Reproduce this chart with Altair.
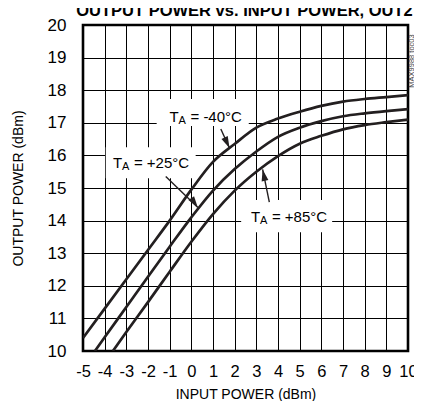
import altair as alt
import pandas as pd

# ---------------- data ----------------
x_top = [-5, -4, -3, -2, -1, 0, 1, 2, 3, 4, 5, 6, 7, 8, 9, 10]
y_top = [10.4, 11.3, 12.2, 13.1, 14.0, 14.95, 15.8, 16.35, 16.85, 17.13, 17.34, 17.52, 17.65, 17.73, 17.79, 17.85]
x_mid = [-4.45, -4, -3, -2, -1, 0, 1, 2, 3, 4, 5, 6, 7, 8, 9, 10]
y_mid = [10.0, 10.42, 11.35, 12.28, 13.2, 14.1, 14.92, 15.58, 16.12, 16.57, 16.85, 17.05, 17.2, 17.29, 17.36, 17.42]
x_bot = [-3.62, -3, -2, -1, 0, 1, 2, 3, 4, 5, 6, 7, 8, 9, 10]
y_bot = [10.0, 10.58, 11.5, 12.43, 13.35, 14.2, 14.92, 15.5, 15.98, 16.36, 16.6, 16.8, 16.93, 17.02, 17.1]
series = ["-40°C", "+25°C", "+85°C"]

x_ticks = list(range(-5, 11))
y_ticks = list(range(10, 21))

# annotation labels (data coordinates)
label_text = ["= -40°C", "= +25°C", "= +85°C"]
label_x = [-1.01, -3.62, 2.75]
label_y = [17.19, 15.76, 14.11]
box_x = [-1.6, -3.95, 2.3]
box_x2 = [2.65, 0.2, 6.5]
box_y = [16.9, 15.3, 13.64]
box_y2 = [17.73, 16.25, 14.63]
arrow_x = [1.36, -1.18, 3.6]
arrow_y = [16.81, 15.35, 14.57]
arrow_x2 = [1.76, 0.30, 3.29]
arrow_y2 = [16.23, 14.40, 15.57]
arrow_angle = [155, 145, 348]

TITLE = "OUTPUT POWER vs. INPUT POWER, OUT2"
XTITLE = "INPUT POWER (dBm)"
YTITLE = "OUTPUT POWER (dBm)"
NOTE = "MAX9988 toc03"

# ---------------- tables ----------------
curves = pd.concat([
    pd.DataFrame({"x": x_top, "y": y_top, "s": series[0]}),
    pd.DataFrame({"x": x_mid, "y": y_mid, "s": series[1]}),
    pd.DataFrame({"x": x_bot, "y": y_bot, "s": series[2]}),
], ignore_index=True)
labels = pd.DataFrame({"x": label_x, "y": label_y, "t": "T", "a": "A", "rest": label_text})
boxes = pd.DataFrame({"x": box_x, "x2": box_x2, "y": box_y, "y2": box_y2})
arrows = pd.DataFrame({"x": arrow_x, "y": arrow_y, "x2": arrow_x2, "y2": arrow_y2, "ang": arrow_angle})

FONT = "Liberation Sans, Arial, sans-serif"
INK = "#231f20"
W, H = 325, 326

xscale = alt.Scale(domain=[-5, 10], nice=False, zero=False)
yscale = alt.Scale(domain=[10, 20], nice=False, zero=False)
xaxis = alt.Axis(values=x_ticks, title=XTITLE, grid=True, ticks=False, domain=False,
                 labelExpr="'' + datum.value", labelOverlap=False,
                 labelPadding=12, labelFontSize=16.5, labelFont=FONT, labelColor="black",
                 gridColor="black", gridOpacity=1, gridWidth=1, labelFlush=False,
                 titleFont=FONT, titleFontSize=14, titleFontWeight="normal", titleColor="black",
                 titleX=W / 2, titleY=47, titleBaseline="alphabetic", titleAnchor="middle", titleAlign="center")
yaxis = alt.Axis(values=y_ticks, title=YTITLE, grid=True, ticks=False, domain=False,
                 labelExpr="'' + datum.value", labelOverlap=False,
                 labelPadding=17, labelFontSize=17, labelFont=FONT, labelColor="black",
                 gridColor="black", gridOpacity=1, gridWidth=1, labelFlush=False,
                 titleFont=FONT, titleFontSize=14, titleFontWeight="normal", titleColor="black",
                 titleAngle=270, titleX=-65, titleY=163, titleBaseline="middle", titleAlign="center")


def X(f="x"):
    return alt.X(f"{f}:Q", scale=xscale, axis=xaxis)


def Y(f="y"):
    return alt.Y(f"{f}:Q", scale=yscale, axis=yaxis)


lines = alt.Chart(curves).mark_line(color=INK, strokeWidth=2.7, interpolate="monotone", clip=True).encode(
    x=X(), y=Y(), detail="s:N", order="x:Q")

rects = alt.Chart(boxes).mark_rect(color="white").encode(
    x=X(), x2="x2:Q", y=Y(), y2="y2:Q")

shafts = alt.Chart(arrows).mark_rule(color=INK, strokeWidth=1.4).encode(
    x=X(), x2="x2:Q", y=Y(), y2="y2:Q")

heads = alt.Chart(arrows).mark_point(shape="M0,0L0.3,1L-0.3,1Z", filled=True, color=INK, opacity=1,
                                     size=530).encode(
    x=X("x2"), y=Y("y2"), angle=alt.Angle("ang:Q", scale=None))

t_main = alt.Chart(labels).mark_text(font=FONT, fontSize=15, color="black", align="left",
                                     baseline="middle").encode(x=X(), y=Y(), text="t:N")
t_sub = alt.Chart(labels).mark_text(font=FONT, fontSize=11, color="black", align="left",
                                    baseline="middle", dx=9, dy=4).encode(x=X(), y=Y(), text="a:N")
t_rest = alt.Chart(labels).mark_text(font=FONT, fontSize=15, color="black", align="left",
                                     baseline="middle", dx=21).encode(x=X(), y=Y(), text="rest:N")

title = alt.Chart(pd.DataFrame({"t": [TITLE]})).mark_text(
    font=FONT, fontSize=16.5, fontWeight="bold", color="black", align="center", baseline="alphabetic").encode(
    x=alt.value(W / 2 - 1), y=alt.value(-9), text="t:N")

note = alt.Chart(pd.DataFrame({"t": [NOTE]})).mark_text(
    font=FONT, fontSize=7.5, color="#444", angle=270, align="center", baseline="middle").encode(
    x=alt.value(W + 3.5), y=alt.value(36), text="t:N")

chart = alt.layer(lines, rects, shafts, heads, t_main, t_sub, t_rest, title, note).properties(
    width=W, height=H,
    autosize=alt.AutoSizeParams(type="none"),
    padding={"left": 75, "top": 17, "right": 6, "bottom": 50},
    background="white",
).configure_view(stroke="black", strokeWidth=2.6)

chart.save("out.html", embed_options={"renderer": "svg", "actions": False})
